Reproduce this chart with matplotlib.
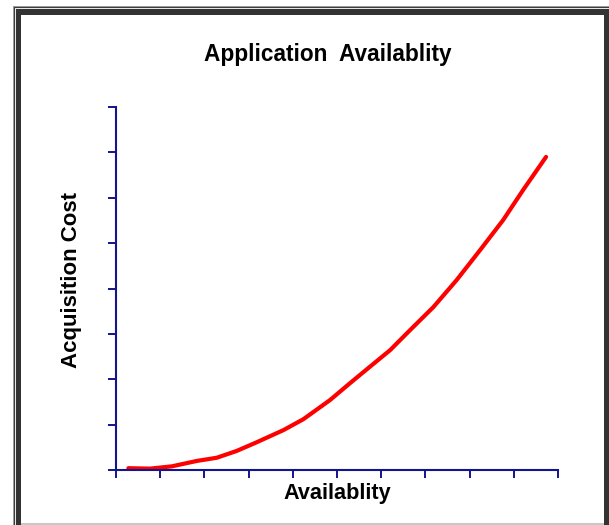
import matplotlib
matplotlib.use("Agg")
from matplotlib import pyplot as plt
from matplotlib.patches import Rectangle

plt.rcParams['font.family'] = ['Liberation Sans', 'DejaVu Sans']

# values (x: availability, y: acquisition cost)
availability = [0.28, 0.77, 1.26, 1.83, 2.28, 2.73, 3.18, 3.79, 4.24, 4.84,
                5.29, 5.75, 6.20, 6.65, 7.18, 7.71, 8.24, 8.76, 9.21, 9.73]
cost = [0.04, 0.03, 0.08, 0.20, 0.27, 0.42, 0.61, 0.88, 1.12, 1.54,
        1.91, 2.28, 2.64, 3.08, 3.59, 4.19, 4.85, 5.51, 6.17, 6.90]
x_ticks = list(range(0, 11))
y_ticks = list(range(0, 9))

W, H = 609, 525
navy = '#14148c'

fig = plt.figure(figsize=(W / 100, H / 100), dpi=100)


def px_rect(x0, y0, x1, y1, color):
    # rectangle given in pixel coords (top-left origin)
    r = Rectangle((x0 / W, 1 - y1 / H), (x1 - x0) / W, (y1 - y0) / H,
                  transform=fig.transFigure, facecolor=color,
                  edgecolor='none', zorder=-10)
    fig.add_artist(r)


# window-like frame
px_rect(13, 6, W, H, '#9a9a9a')
px_rect(14, 7, W, H, '#3c3c3c')
px_rect(15, 8, W, H, '#e6e6e6')
px_rect(16, 9, W, H, '#333333')
px_rect(21, 15, 604, H, '#c8c8c8')
px_rect(21, 15, 604, 523, 'white')

ax = fig.add_axes([116 / W, 1 - 470 / H, (558 - 116) / W, (470 - 107) / H])
ax.patch.set_alpha(0)
ax.plot(availability, cost, color='#ff0000', lw=3, solid_capstyle='round')
ax.set_xlim(0, 10)
ax.set_ylim(0, 8)
ax.set_xticks(x_ticks)
ax.set_yticks(y_ticks)
ax.tick_params(direction='out', length=5.8, width=1.4, color=navy,
               labelbottom=False, labelleft=False)
for s in ['top', 'right']:
    ax.spines[s].set_visible(False)
for s in ['left', 'bottom']:
    ax.spines[s].set_color(navy)
    ax.spines[s].set_linewidth(1.5)

fig.text(327.5 / W, 1 - 61.5 / H, 'Application  Availablity', ha='center',
         va='baseline', fontsize=16.3, fontweight='bold')
fig.text(337.5 / W, 1 - 499 / H, 'Availablity', ha='center', va='baseline',
         fontsize=15.6, fontweight='bold')
fig.text(71 / W, 1 - 280 / H, 'Acquisition Cost', ha='center', va='center',
         rotation=90, fontsize=16, fontweight='bold')

fig.savefig('out.png', dpi=100)
